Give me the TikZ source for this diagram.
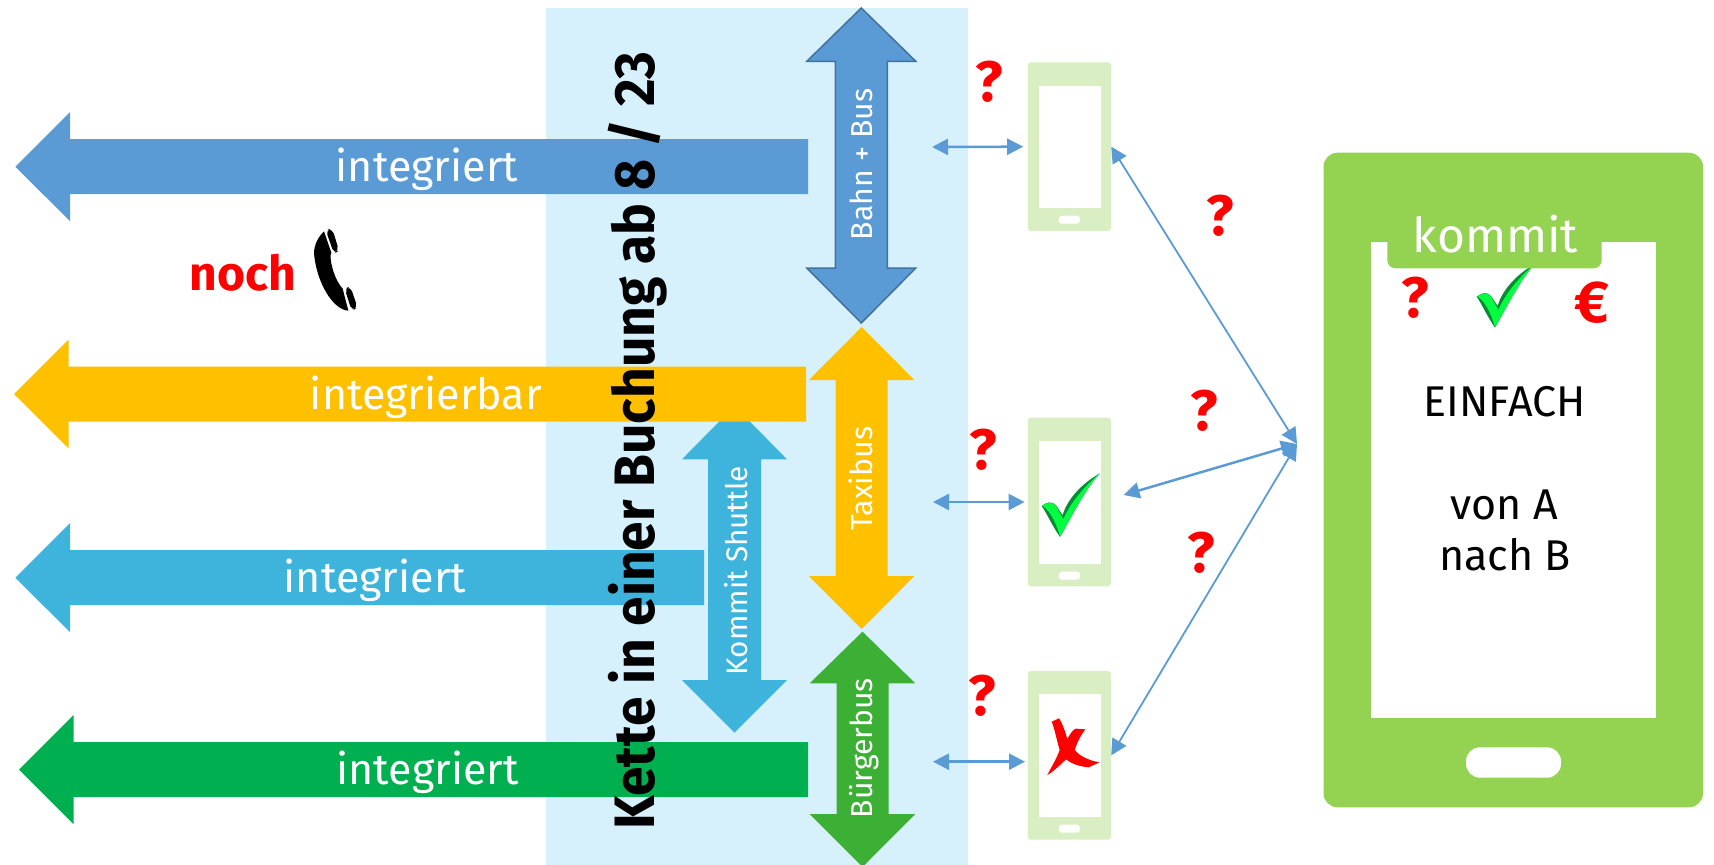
\documentclass[tikz,border=0pt]{standalone}
\usepackage{fontspec}
\setmainfont{Fira Sans}
\newfontfamily\lightfont{Fira Sans}
\newfontfamily\titlefont{Fira Sans Bold}[FakeStretch=0.936]
\usetikzlibrary{arrows.meta}
\definecolor{cBlue}{HTML}{5B9BD5}
\definecolor{cBlueDk}{HTML}{41719C}
\definecolor{cYellow}{HTML}{FFC000}
\definecolor{cCyan}{HTML}{3EB4DC}
\definecolor{cGreen}{HTML}{00B050}
\definecolor{cGreenB}{HTML}{3CB034}
\definecolor{cPhone}{HTML}{94D351}
\definecolor{cPhoneL}{HTML}{DAEEC3}
\definecolor{cPanel}{HTML}{D6F0FC}
\definecolor{cChk}{HTML}{00FF40}
\definecolor{cChkD}{HTML}{0B8A35}
\newcommand\fsz[1]{\fontsize{#1}{#1}\selectfont}
% opts, cx, halfhead, halfshaft, toptip, topbase, botbase, bottip
\newcommand\myVArrow[8]{\path[#1] (#2,#5) -- (#2+#3,#6) -- (#2+#4,#6) -- (#2+#4,#7) -- (#2+#3,#7) -- (#2,#8) -- (#2-#3,#7) -- (#2-#4,#7) -- (#2-#4,#6) -- (#2-#3,#6) -- cycle;}
% opts, tipx, basex, endx, cy, halfhead, halfshaft
\newcommand\myHArrow[7]{\path[#1] (#2,#5) -- (#3,#5-#6) -- (#3,#5-#7) -- (#4,#5-#7) -- (#4,#5+#7) -- (#3,#5+#7) -- (#3,#5+#6) -- cycle;}
\newcommand\myCheck[2]{\begin{scope}[shift={(#1,#2)},scale=1/3]
\fill[cChkD] (95,198) .. controls (110,186) and (125,182) .. (138,196) -- (158,226) .. controls (170,180) and (215,130) .. (270,100) .. controls (235,135) and (200,200) .. (150,291) .. controls (125,255) and (108,215) .. cycle;
\fill[cChk] (97,197) .. controls (112,186) and (126,184) .. (138,198) -- (160,238) .. controls (178,195) and (220,140) .. (270,100) .. controls (235,135) and (200,200) .. (150,290) .. controls (142,260) and (125,215) .. cycle;
\end{scope}}
\tikzset{
 x=1pt,y=-1pt,
 txt/.style={inner sep=0pt,outer sep=0pt,anchor=base},
 white light/.style={txt,text=white,font=\lightfont\fsz{#1}},
 black light/.style={txt,text=black,font=\lightfont\fsz{#1}},
 redmark/.style={txt,text=red,font=\bfseries\fsz{57}},
 smallphone/.style={fill=cPhoneL,rounded corners=3pt,minimum width=83.2pt,minimum height=168.7pt,inner sep=0pt},
 smallscreen/.style={fill=white,minimum width=62.1pt,minimum height=122.3pt,inner sep=0pt},
 smallbutton/.style={fill=white,rounded corners=3pt,minimum width=21pt,minimum height=8pt,inner sep=0pt},
 conn/.style={draw=cBlue,line width=#1,arrows={Triangle[length=16pt,width=16pt]-Triangle[length=16pt,width=16pt]}},
}
\begin{document}
\begin{tikzpicture}
\useasboundingbox (0,0) rectangle (1714,865);
\fill[cPanel] (545.5,7.5) rectangle (967.5,865);

% vertical arrows
\myVArrow{fill=cCyan}{734.5}{52.5}{26.5}{406}{459.3}{680}{732.7}
\myHArrow{fill=cBlue}{15.4}{70}{808}{166.7}{54.5}{27.5}
\myHArrow{fill=cYellow}{14}{68.6}{806}{394}{54.5}{27.5}
\myHArrow{fill=cCyan}{15.4}{70}{704}{577.7}{54.5}{27.5}
\myHArrow{fill=cGreen}{19}{73.5}{808}{769.7}{54.5}{27.5}
\myVArrow{fill=cBlue,draw=cBlueDk,line width=1.5pt}{861.3}{54.5}{26}{8}{61.3}{268}{323}
\myVArrow{fill=cYellow}{861.7}{52.7}{26}{327}{380}{576}{629}
\myVArrow{fill=cGreenB}{862.5}{52.8}{26}{631.7}{683.3}{814}{867}

% arrow labels
\node[white light=43] (t1) at (427,181.7) {integriert};
\node[white light=43] (t2) at (425.8,409) {integrierbar};
\node[white light=43] (t3) at (375,592.7) {integriert};
\node[white light=43] (t4) at (427.7,784.3) {integriert};
\node[white light=30.2,rotate=90] (t5) at (872,164.5) {Bahn + Bus};
\node[white light=29.7,rotate=90] (t6) at (747,570.7) {Kommit Shuttle};
\node[white light=30.5,rotate=90] (t7) at (872,478.5) {Taxibus};
\node[white light=30.2,rotate=90] (t8) at (872,748) {Bürgerbus};

% title
\node[txt,rotate=90,font=\titlefont\fsz{57}] (title) at (654,440.5) {Kette in einer Buchung ab 8 / 23};

% noch + handset
\node[txt,text=red,font=\bfseries\fsz{48}] (noch) at (243.2,290) {noch};
\begin{scope}[shift={(170,210)},scale=1/3]
\fill[black] (462,64) -- (484,128) .. controls (476,140) and (490,205) .. (518,236) -- (535,302) .. controls (490,300) and (440,220) .. (432,130) .. controls (432,105) and (445,80) .. cycle;
\fill[black,rounded corners=5pt] (467,60) -- (487,56) -- (507,122) -- (492,131) -- cycle;
\fill[black,rounded corners=5pt] (524,236) -- (541,229) -- (563,293) -- (545,302) -- cycle;
\end{scope}

% small phones
\node[smallphone] (phone1) at (1069.4,146.65) {};
\node[smallscreen] (screen1) at (1069.65,146.85) {};
\node[smallbutton] (button1) at (1069.4,219.7) {};
\node[smallphone] (phone2) at (1069.4,502) {};
\node[smallscreen] (screen2) at (1069.65,502.35) {};
\node[smallbutton] (button2) at (1069.4,575.7) {};
\node[smallphone] (phone3) at (1069.4,755.35) {};
\node[smallscreen] (screen3) at (1069.65,755.35) {};
\node[smallbutton] (button3) at (1069.4,828.7) {};
\myCheck{1010}{440}
\begin{scope}[shift={(1010,690)},scale=1/3]
\fill[red] (125,95) -- (147,85) .. controls (160,105) and (165,125) .. (172,147) .. controls (180,132) and (188,120) .. (197,116) -- (226,118) .. controls (212,135) and (200,160) .. (194,180) .. controls (210,200) and (240,212) .. (268,217) -- (236,232) .. controls (215,230) and (190,225) .. (168,208) .. controls (150,225) and (130,245) .. (112,255) .. controls (125,230) and (140,205) .. (149,180) .. controls (140,150) and (135,120) .. cycle;
\end{scope}

% large phone
\node[fill=cPhone,rounded corners=14pt,minimum width=379.5pt,minimum height=654.6pt,inner sep=0pt] (bigphone) at (1513.25,480) {};
\node[fill=white,minimum width=285pt,minimum height=476pt,inner sep=0pt] (bigscreen) at (1513.5,479.7) {};
\node[fill=white,rounded corners=14pt,minimum width=95pt,minimum height=30.4pt,inner sep=0pt] (bigbutton) at (1513.5,762.5) {};
\myCheck{1445}{230.67}
\fill[cPhone,rounded corners=8pt] (1387.3,230) rectangle (1601.7,268.3);
\node[white light=48] (kommit) at (1495.5,252.5) {kommit};
\node[black light=43] (einfach) at (1504.7,416) {EINFACH};
\node[black light=43] (vona) at (1504.3,519.3) {von A};
\node[black light=43] (nachb) at (1505,570) {nach B};

% red marks
\node[redmark] (q1) at (989,101.7) {?};
\node[redmark] (q2) at (1220,235) {?};
\node[redmark] (q3) at (1204,430.7) {?};
\node[redmark] (q4) at (983,469.3) {?};
\node[redmark] (q5) at (1201,572.7) {?};
\node[redmark] (q6) at (982,715.7) {?};
\node[redmark] (q7) at (1414.7,317.3) {?};
\node[txt,text=red,font=\bfseries\fsz{59}] (eur) at (1592,322.7) {€};

% connectors
\coordinate (a1) at (932,147);
\coordinate (a2) at (933,502);
\coordinate (a3) at (933,761.7);
\coordinate (hub) at (1297,444);
\coordinate (p2e) at (1123.6,495);
\coordinate (p3w) at (1028,761.7);
\draw[conn=2.5pt,shorten >=4.4pt] (a1) -- (phone1.west);
\draw[conn=2.5pt,shorten >=3pt] (a2) -- (phone2.west);
\draw[conn=2.5pt,shorten >=3pt] (a3) -- (p3w);
\draw[conn=1.8pt] (phone1.east) -- (hub);
\draw[conn=2.5pt] (p2e) -- (hub);
\draw[conn=1.8pt] (phone3.east) -- (hub);
\end{tikzpicture}
\end{document}
